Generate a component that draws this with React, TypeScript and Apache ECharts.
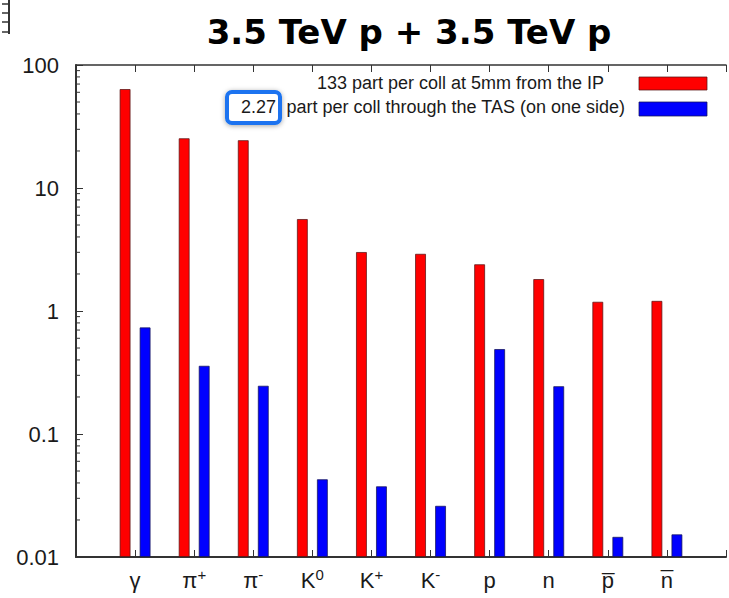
import React, { useEffect, useRef } from 'react';
import * as echarts from 'echarts';

// Particle species at the interaction point
const particles = ['γ', 'π+', 'π-', 'K0', 'K+', 'K-', 'p', 'n', 'p\u0305', 'n\u0305'];
// Particles per collision at 5 mm from the IP
const nearIpValues = [63.8, 25.4, 24.5, 5.6, 3.02, 2.92, 2.4, 1.82, 1.19, 1.21];
// Particles per collision through the TAS (one side)
const tasValues = [0.736, 0.359, 0.247, 0.0429, 0.0376, 0.0261, 0.491, 0.245, 0.0146, 0.0153];

const yTickValues = [0.01, 0.1, 1, 10, 100];
const minorMantissas = [2, 3, 4, 5, 6, 7, 8, 9];
const minorDecades = [0.01, 0.1, 1, 10];

const titleText = '3.5 TeV p + 3.5 TeV p';
const nearIpName = '133 part per coll at 5mm from the IP';
const tasTotal = '2.27';
const tasName = 'part per coll through the TAS (on one side)';

const FONT = '"Liberation Sans", Arial, Helvetica, sans-serif';
const AXIS_COLOR = '#333';
const TEXT_COLOR = '#1a1a1a';

export default function App() {
  const ref = useRef<HTMLDivElement>(null);

  useEffect(() => {
    if (!ref.current) return;
    const chart = echarts.init(ref.current, undefined, { renderer: 'svg' });

    const categories = ['', ...particles, ''];
    const pad = (arr: number[]) => [null, ...arr, null];
    const minorTicks: number[][] = [];
    minorDecades.forEach((d) => minorMantissas.forEach((m) => minorTicks.push([0, +(d * m).toPrecision(3)])));

    const labelFormatter = (v: string) => {
      if (!v) return '';
      if (v.length === 2 && '+-0'.includes(v[1])) return `{b|${v[0]}}{s|${v[1]}}`;
      return `{b|${v}}`;
    };

    const option: any = {
      animation: false,
      backgroundColor: '#fff',
      textStyle: { fontFamily: FONT },
      grid: { left: 76, top: 65, bottom: 41, right: -7, containLabel: false },
      xAxis: [
        {
          type: 'category',
          data: categories,
          boundaryGap: false,
          position: 'bottom',
          axisLine: { lineStyle: { color: AXIS_COLOR, width: 2 } },
          axisTick: { inside: true, length: 7, interval: 0, lineStyle: { color: AXIS_COLOR, width: 1 } },
          axisLabel: {
            interval: 0,
            margin: 10,
            color: TEXT_COLOR,
            formatter: labelFormatter,
            rich: {
              b: { fontSize: 22, fontFamily: FONT, color: TEXT_COLOR, lineHeight: 26 },
              s: { fontSize: 15, fontFamily: FONT, color: TEXT_COLOR, verticalAlign: 'top', lineHeight: 16 },
            },
          },
          splitLine: { show: false },
        },
        {
          type: 'category',
          data: categories,
          boundaryGap: false,
          position: 'top',
          axisLine: { lineStyle: { color: AXIS_COLOR, width: 1.5 } },
          axisTick: { inside: true, length: 7, interval: 0, lineStyle: { color: AXIS_COLOR, width: 1 } },
          axisLabel: { show: false },
          splitLine: { show: false },
        },
      ],
      yAxis: {
        type: 'log',
        logBase: 10,
        min: yTickValues[0],
        max: yTickValues[yTickValues.length - 1],
        startValue: yTickValues[0],
        axisLine: { show: true, lineStyle: { color: AXIS_COLOR, width: 2 } },
        axisTick: { show: true, inside: true, length: 7, lineStyle: { color: AXIS_COLOR, width: 1 } },
        axisLabel: {
          color: TEXT_COLOR,
          fontSize: 22,
          fontFamily: FONT,
          margin: 17,
          formatter: (v: number) => String(+(+v).toPrecision(3)),
        },
        splitLine: { show: false },
      },
      series: [
        {
          name: nearIpName,
          type: 'bar',
          data: pad(nearIpValues),
          barWidth: 11,
          barGap: '82%',
          itemStyle: { color: '#ff0000', borderColor: 'rgba(90,20,20,0.75)', borderWidth: 1 },
        },
        {
          name: `${tasTotal} ${tasName}`,
          type: 'bar',
          data: pad(tasValues),
          barWidth: 11,
          barGap: '82%',
          itemStyle: { color: '#0000ff', borderColor: 'rgba(20,20,90,0.75)', borderWidth: 1 },
        },
        {
          // log-spaced minor ticks on the left axis
          type: 'custom',
          silent: true,
          z: 5,
          data: minorTicks,
          encode: { x: 0, y: 1 },
          renderItem: (_params: any, api: any) => {
            const p = api.coord([0, api.value(1)]);
            return {
              type: 'line',
              shape: { x1: p[0], y1: p[1], x2: p[0] + 4, y2: p[1] },
              style: { stroke: AXIS_COLOR, lineWidth: 1 },
            };
          },
        },
      ],
      graphic: [
        // fragment of a neighbouring axis in the top-left corner
        { type: 'line', shape: { x1: 9, y1: 0, x2: 9, y2: 34 }, style: { stroke: AXIS_COLOR, lineWidth: 2 } },
        { type: 'line', shape: { x1: 2, y1: 4, x2: 9, y2: 4 }, style: { stroke: AXIS_COLOR, lineWidth: 1.5 } },
        { type: 'line', shape: { x1: 2, y1: 13, x2: 9, y2: 13 }, style: { stroke: AXIS_COLOR, lineWidth: 1.5 } },
        { type: 'line', shape: { x1: 2, y1: 22, x2: 9, y2: 22 }, style: { stroke: AXIS_COLOR, lineWidth: 1.5 } },
        { type: 'line', shape: { x1: 2, y1: 32, x2: 9, y2: 32 }, style: { stroke: AXIS_COLOR, lineWidth: 1.5 } },
        {
          type: 'text',
          x: 409,
          y: 32,
          style: {
            text: titleText,
            fill: '#000',
            font: 'bold 34px "DejaVu Sans", Verdana, sans-serif',
            textAlign: 'center',
            textVerticalAlign: 'middle',
          },
        },
        // key
        {
          type: 'text',
          x: 604,
          y: 83,
          style: { text: nearIpName, fill: TEXT_COLOR, font: `18px ${FONT}`, textAlign: 'right', textVerticalAlign: 'middle' },
        },
        {
          type: 'rect',
          shape: { x: 639, y: 77, width: 68, height: 13 },
          style: { fill: '#ff0000', stroke: 'rgba(90,20,20,0.75)', lineWidth: 1 },
        },
        {
          type: 'rect',
          shape: { x: 227, y: 92, width: 53, height: 31, r: 5 },
          style: {
            fill: '#fff',
            stroke: '#1a73f0',
            lineWidth: 4,
            shadowBlur: 5,
            shadowColor: 'rgba(0,0,0,0.35)',
            shadowOffsetY: 1,
          },
          z: 10,
        },
        {
          type: 'text',
          x: 276,
          y: 107,
          z: 11,
          style: { text: tasTotal, fill: TEXT_COLOR, font: `18px ${FONT}`, textAlign: 'right', textVerticalAlign: 'middle' },
        },
        {
          type: 'text',
          x: 625,
          y: 107,
          style: { text: tasName, fill: TEXT_COLOR, font: `18px ${FONT}`, textAlign: 'right', textVerticalAlign: 'middle' },
        },
        {
          type: 'rect',
          shape: { x: 639, y: 102, width: 68, height: 14 },
          style: { fill: '#0000ff', stroke: 'rgba(20,20,90,0.75)', lineWidth: 1 },
        },
      ],
    };

    chart.setOption(option);
    return () => chart.dispose();
  }, []);

  return (
    <div
      ref={ref}
      style={{ position: 'fixed', left: 0, top: 0, width: 729, height: 598, background: '#fff' }}
    />
  );
}
